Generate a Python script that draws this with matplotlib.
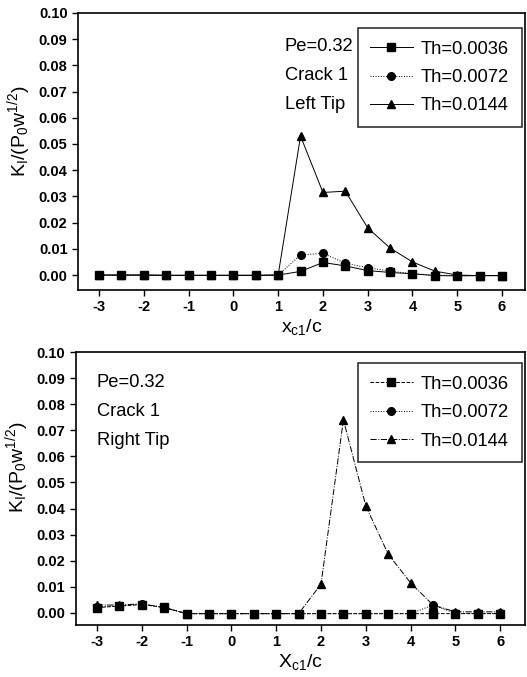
import matplotlib
matplotlib.use("Agg")
import matplotlib.pyplot as plt

plt.rcParams['font.family'] = ['Liberation Sans', 'DejaVu Sans']
plt.rcParams['axes.unicode_minus'] = False

x = [-3, -2.5, -2, -1.5, -1, -0.5, 0, 0.5, 1, 1.5, 2, 2.5, 3, 3.5, 4, 4.5, 5, 5.5, 6]

# left tip
left_th1 = [0, 0, 0, -0.0001, -0.0001, -0.0001, -0.0001, -0.0001, 0, 0.0014, 0.0048, 0.0035,
            0.0017, 0.001, 0.0005, -0.0002, -0.0003, -0.0002, -0.0002]
left_th2 = [0, 0, 0, -0.0001, -0.0001, -0.0001, -0.0001, -0.0001, 0, 0.0077, 0.0083, 0.0045,
            0.0028, 0.0015, 0.0005, 0.0, -0.0002, -0.0002, -0.0002]
left_th3 = [0, 0, 0, -0.0001, -0.0001, -0.0001, -0.0001, -0.0001, 0, 0.053, 0.0315, 0.032,
            0.018, 0.0103, 0.005, 0.0015, 0.0, -0.0002, -0.0002]

# right tip
right_th1 = [0.002, 0.0026, 0.0032, 0.0021, -0.0003, -0.0003, -0.0003, -0.0003, -0.0003, -0.0003,
             -0.0003, -0.0003, -0.0003, -0.0003, -0.0003, -0.0003, -0.0003, -0.0003, -0.0003]
right_th2 = [0.0022, 0.0028, 0.0033, 0.0021, -0.0003, -0.0003, -0.0003, -0.0003, -0.0003, -0.0003,
             -0.0003, -0.0003, -0.0003, -0.0003, -0.0003, 0.003, -0.0002, -0.0002, -0.0002]
right_th3 = [0.003, 0.003, 0.0035, 0.002, -0.0003, -0.0003, -0.0003, -0.0003, -0.0003, -0.0003,
             0.011, 0.074, 0.041, 0.0225, 0.0115, 0.003, 0.0004, 0.0004, 0.0004]

labels = ['Th=0.0036', 'Th=0.0072', 'Th=0.0144']
yticks = [0.00, 0.01, 0.02, 0.03, 0.04, 0.05, 0.06, 0.07, 0.08, 0.09, 0.10]
xticks = [-3, -2, -1, 0, 1, 2, 3, 4, 5, 6]


def draw_panel(ax, series, styles, notes, note_xy, xlabel, ylim, xlim, leg_anchor, ylab_y):
    markers = ['s', 'o', '^']
    for ys, m, ls, lab in zip(series, markers, styles, labels):
        ax.plot(x, ys, color='black', linestyle=ls, linewidth=0.7, marker=m,
                markersize=5.5, label=lab)
    ax.set_xlim(*xlim)
    ax.set_ylim(*ylim)
    ax.set_xticks(xticks)
    ax.set_yticks(yticks)
    ax.set_yticklabels(['%.2f' % v for v in yticks])
    ax.tick_params(direction='out', length=4, width=1, labelsize=10.5)
    for lab in ax.get_xticklabels() + ax.get_yticklabels():
        lab.set_fontweight('bold')
    for sp in ax.spines.values():
        sp.set_linewidth(1.2)
    ax.set_xlabel(xlabel, fontsize=14, labelpad=2)
    ax.set_ylabel(r'$\mathregular{K_I/(P_0w^{1/2})}$', fontsize=14)
    ax.yaxis.set_label_coords(-0.10, ylab_y)
    leg = ax.legend(loc='upper right', bbox_to_anchor=leg_anchor, fontsize=13.2,
                    frameon=True, fancybox=False, edgecolor='black', handlelength=2.3,
                    handletextpad=0.45, labelspacing=0.62, borderaxespad=0.0,
                    borderpad=0.7)
    leg.get_frame().set_linewidth(1.2)
    for i, t in enumerate(notes):
        ax.text(note_xy[0], note_xy[1] - i * 0.011, t, fontsize=13.2, ha='left', va='center')


fig = plt.figure(figsize=(5.27, 6.77), dpi=100)
ax1 = fig.add_axes([0.148, 0.572, 0.848, 0.409])
ax2 = fig.add_axes([0.144, 0.077, 0.852, 0.403])

draw_panel(ax1, [left_th1, left_th2, left_th3], ['-', ':', '-'],
           ['Pe=0.32', 'Crack 1', 'Left Tip'], (1.15, 0.0870), r'$\mathregular{x_{c1}/c}$',
           (-0.0056, 0.10), (-3.47, 6.51), (0.993, 0.946), 0.574)
draw_panel(ax2, [right_th1, right_th2, right_th3], ['--', ':', '-.'],
           ['Pe=0.32', 'Crack 1', 'Right Tip'], (-3.0, 0.0882), r'$\mathregular{X_{c1}/c}$',
           (-0.0046, 0.10), (-3.47, 6.55), (0.993, 0.960), 0.579)

fig.savefig('out.png', dpi=100)
